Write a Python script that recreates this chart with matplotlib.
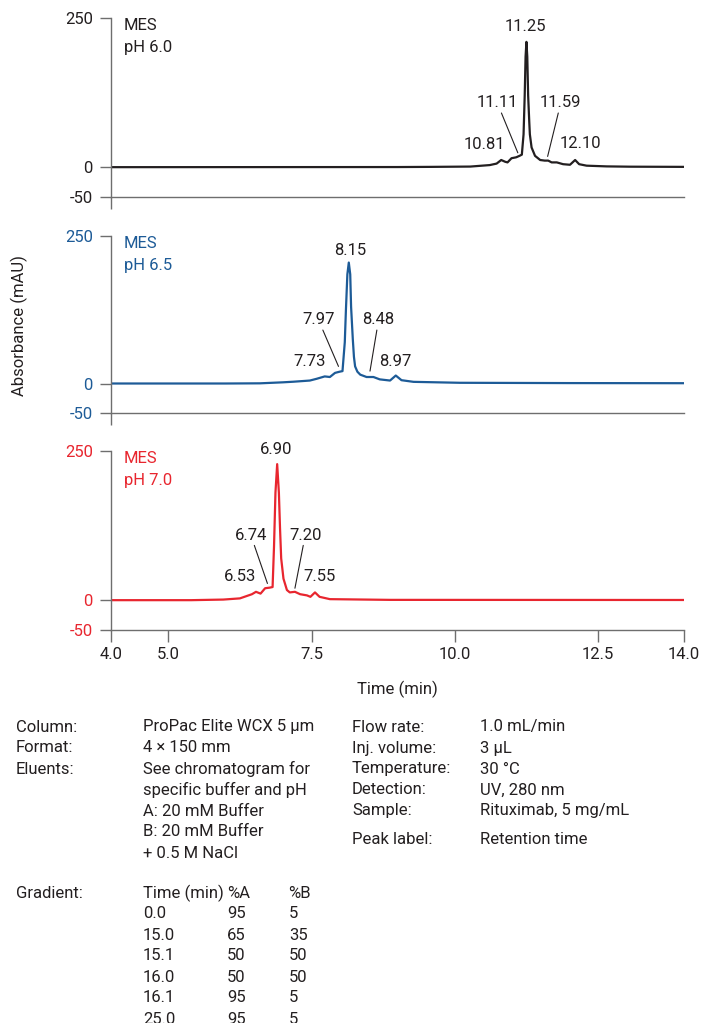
import matplotlib
matplotlib.use("Agg")
import matplotlib.pyplot as plt

plt.rcParams['font.family'] = ['Roboto', 'DejaVu Sans']
plt.rcParams['font.size'] = 12

# ---- chromatogram traces (time in min, absorbance in mAU)
t_ph60 = [4.0, 9.0, 9.6, 10.27, 10.61, 10.73, 10.81, 10.88, 10.92, 10.99, 11.07, 11.13,
          11.17, 11.20, 11.22, 11.235, 11.25, 11.265, 11.28, 11.30, 11.31, 11.34, 11.40,
          11.49, 11.57, 11.63, 11.69, 11.78, 11.89, 12.01, 12.10, 12.17, 12.30, 12.65,
          13.06, 14.0]
a_ph60 = [0, 0.2, 0.5, 1, 3.5, 6, 12, 9, 8, 15, 16.5, 19,
          21, 55, 120, 185, 210, 185, 120, 75, 55, 33, 19,
          12, 11, 11, 8, 8, 5, 4, 12, 5, 2.5, 1.3,
          0.8, 0.5]

t_ph65 = [4.0, 6.0, 6.6, 7.0, 7.18, 7.47, 7.59, 7.73, 7.82, 7.91, 7.99, 8.04, 8.08,
          8.10, 8.125, 8.15, 8.175, 8.19, 8.22, 8.24, 8.26, 8.30, 8.35, 8.46, 8.58,
          8.69, 8.87, 8.97, 9.07, 9.28, 10.09, 12.0, 14.0]
a_ph65 = [0, 0, 0.3, 2, 3, 5, 8, 12, 11, 18, 20, 21, 70,
          125, 185, 205, 185, 130, 75, 45, 29, 20, 15, 11, 11,
          7, 5, 13.5, 5.6, 2.8, 1.2, 0.7, 0.5]

t_ph70 = [4.0, 5.4, 5.96, 6.25, 6.37, 6.46, 6.53, 6.61, 6.69, 6.77, 6.82, 6.845,
          6.87, 6.90, 6.93, 6.95, 6.97, 7.01, 7.07, 7.12, 7.21, 7.30, 7.42, 7.48,
          7.56, 7.64, 7.82, 8.87, 14.0]
a_ph70 = [0, 0, 1, 3, 7, 10, 14, 11, 20, 21, 22, 90,
          180, 228, 180, 120, 70, 36, 17, 13, 14, 10, 8, 5.6,
          13, 5.6, 1.7, 0.5, 0.3]

# peak labels (retention times)
rt_ph60 = [10.81, 11.11, 11.25, 11.59, 12.10]
rt_ph65 = [7.73, 7.97, 8.15, 8.48, 8.97]
rt_ph70 = [6.53, 6.74, 6.90, 7.20, 7.55]

buffers = ["MES\npH 6.0", "MES\npH 6.5", "MES\npH 7.0"]
colors = ["#231f20", "#1d5b97", "#e8262f"]

x_ticks = [4.0, 5.0, 7.5, 10.0, 12.5, 14.0]
x_ticklabels = ["4.0", "5.0", "7.5", "10.0", "12.5", "14.0"]
y_ticks = [-50, 0, 250]

# label layout per peak: (text x, text y, line end x, line end y) ; None = no leader line
layouts = [
    [(10.51, 38, None, None), (10.74, 108, 11.10, 24), (11.24, 236, None, None),
     (11.85, 108, 11.62, 18), (12.20, 39, None, None)],
    [(7.47, 38, None, None), (7.62, 108, 7.97, 29), (8.18, 225, None, None),
     (8.67, 108, 8.52, 21), (8.97, 38, None, None)],
    [(6.25, 39, None, None), (6.44, 109, 6.73, 28), (6.89, 253, None, None),
     (7.39, 109, 7.21, 20), (7.64, 39, None, None)],
]

W, H = 703, 1023
fig = plt.figure(figsize=(W / 100, H / 100), dpi=100)

# axes boxes in pixels: (top of 250, -50 line)
boxes = [(18, 197), (236, 413), (451, 630)]
left_px, right_px = 111, 684

traces = [(t_ph60, a_ph60, rt_ph60), (t_ph65, a_ph65, rt_ph65), (t_ph70, a_ph70, rt_ph70)]
spine_col = "#6e6e6e"
tc = "#231f20"
fs = 12

for i, ((top, bot), (tt, aa, rts)) in enumerate(zip(boxes, traces)):
    ax = fig.add_axes([left_px / W, 1 - bot / H, (right_px - left_px) / W, (bot - top) / H])
    col = colors[i]
    ax.plot(tt, aa, color=col, lw=1.6, solid_joinstyle='round')
    ax.set_xlim(4, 14)
    ax.set_ylim(-50, 250)
    for s in ["top", "right"]:
        ax.spines[s].set_visible(False)
    for s in ["left", "bottom"]:
        ax.spines[s].set_color(spine_col)
        ax.spines[s].set_linewidth(1.0)
    ax.set_yticks(y_ticks)
    ax.set_yticklabels([str(v) for v in y_ticks])
    ax.tick_params(axis='y', length=8, width=1.0, color=spine_col, pad=5, labelcolor=col,
                   labelsize=fs)
    if i == 2:
        ax.set_xticks(x_ticks)
        ax.set_xticklabels(x_ticklabels)
        ax.tick_params(axis='x', length=8.5, width=1.0, color=spine_col, pad=4,
                       labelcolor=tc, labelsize=fs)
    else:
        ax.set_xticks([4.0])
        ax.set_xticklabels([""])
        ax.tick_params(axis='x', length=8.5, width=1.0, color=spine_col)
    ax.patch.set_alpha(0)

    ax.text(0.0227, 1.0, buffers[i], transform=ax.transAxes, ha='left', va='top',
            color=col, fontsize=fs, linespacing=1.55)

    for rt, (tx, ty, lx, ly) in zip(rts, layouts[i]):
        lab = f"{rt:.2f}"
        if lx is None:
            ax.text(tx, ty, lab, ha='center', va='center', color=tc,
                    fontsize=fs, clip_on=False)
        else:
            ax.annotate(lab, xy=(lx, ly), xytext=(tx, ty), ha='center', va='center',
                        color=tc, fontsize=fs, annotation_clip=False,
                        arrowprops=dict(arrowstyle='-', color=tc, lw=0.8,
                                        shrinkA=0, shrinkB=0,
                                        relpos=(0.5, 0.5)))

fig.text(19 / W, 1 - 326 / H, "Absorbance (mAU)", rotation=90, ha='center', va='center',
         color=tc, fontsize=fs)
fig.text(397 / W, 1 - 689 / H, "Time (min)", ha='center', va='center',
         color=tc, fontsize=fs)

# ---- method conditions
left_labels = ["Column:", "Format:", "Eluents:"]
left_values = ["ProPac Elite WCX 5 µm", "4 × 150 mm", "See chromatogram for",
               "specific buffer and pH", "A: 20 mM Buffer", "B: 20 mM Buffer",
               "+ 0.5 M NaCl"]
right_labels = ["Flow rate:", "Inj. volume:", "Temperature:", "Detection:", "Sample:"]
right_values = ["1.0 mL/min", "3 µL", "30 °C", "UV, 280 nm", "Rituximab, 5 mg/mL"]
peak_label = ("Peak label:", "Retention time")

grad_header = ["Time (min)", "%A", "%B"]
grad_time = ["0.0", "15.0", "15.1", "16.0", "16.1", "25.0"]
grad_a = [95, 65, 50, 50, 95, 95]
grad_b = [5, 35, 50, 50, 5, 5]


def put(x, y, s):
    fig.text(x / W, 1 - y / H, s, ha='left', va='center', color=tc, fontsize=fs)


row0, step = 727, 21
for k, s in enumerate(left_labels):
    put(16, row0 + k * step, s)
for k, s in enumerate(left_values):
    put(143, row0 + k * step, s)
for k, s in enumerate(right_labels):
    put(352, row0 + k * step, s)
for k, s in enumerate(right_values):
    put(480, row0 + k * step, s)
put(352, 840, peak_label[0])
put(480, 840, peak_label[1])

g0 = 893
put(16, g0, "Gradient:")
put(143, g0, grad_header[0])
put(227, g0, grad_header[1])
put(288, g0, grad_header[2])
for k in range(len(grad_time)):
    y = g0 + (k + 1) * step
    put(143, y, grad_time[k])
    put(227, y, str(grad_a[k]))
    put(289, y, str(grad_b[k]))

fig.savefig("out.png", dpi=100)
